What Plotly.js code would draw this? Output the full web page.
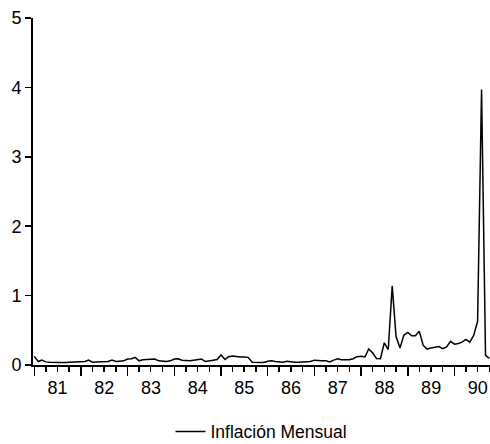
<!DOCTYPE html>
<html>
<head>
<meta charset="utf-8">
<script src="https://cdn.plot.ly/plotly-3.0.1.min.js"></script>
<style>html,body{margin:0;padding:0;background:#fff;}#chart{width:490px;height:444px;}</style>
</head>
<body>
<div id="chart"></div>
<script>
// Monthly inflation (fraction), Jan 1981 - Oct 1990
const years = [1981, 1982, 1983, 1984, 1985, 1986, 1987, 1988, 1989, 1990];
const infl1981 = [0.125, 0.05, 0.07, 0.045, 0.04, 0.035, 0.035, 0.035, 0.035, 0.04, 0.04, 0.04];
const infl1982 = [0.045, 0.05, 0.07, 0.04, 0.045, 0.045, 0.05, 0.05, 0.07, 0.05, 0.055, 0.06];
const infl1983 = [0.085, 0.09, 0.11, 0.06, 0.075, 0.08, 0.09, 0.085, 0.06, 0.055, 0.05, 0.06];
const infl1984 = [0.085, 0.09, 0.07, 0.065, 0.06, 0.07, 0.075, 0.085, 0.05, 0.055, 0.07, 0.08];
const infl1985 = [0.145, 0.08, 0.12, 0.13, 0.12, 0.115, 0.115, 0.11, 0.04, 0.035, 0.035, 0.035];
const infl1986 = [0.055, 0.06, 0.05, 0.04, 0.04, 0.055, 0.045, 0.04, 0.04, 0.04, 0.045, 0.05];
const infl1987 = [0.07, 0.06, 0.06, 0.06, 0.045, 0.07, 0.09, 0.075, 0.075, 0.075, 0.09, 0.12];
const infl1988 = [0.125, 0.115, 0.23, 0.175, 0.095, 0.09, 0.32, 0.22, 1.14, 0.41, 0.245, 0.43];
const infl1989 = [0.47, 0.42, 0.42, 0.485, 0.285, 0.23, 0.245, 0.25, 0.265, 0.235, 0.26, 0.34];
const infl1990 = [0.30, 0.31, 0.33, 0.37, 0.33, 0.43, 0.63, 3.97, 0.138, 0.096];
const byYear = [infl1981, infl1982, infl1983, infl1984, infl1985, infl1986, infl1987, infl1988, infl1989, infl1990];
const seriesName = 'Inflación Mensual';

const xDates = [], yVals = [];
byYear.forEach((arr, i) => {
  arr.forEach((v, m) => {
    xDates.push(years[i] + '-' + String(m + 1).padStart(2, '0') + '-01');
    yVals.push(v);
  });
});

const font = 'Liberation Sans, Arial, Helvetica, sans-serif';
const trace = {
  x: xDates, y: yVals, type: 'scatter', mode: 'lines', name: seriesName,
  line: {color: '#000', width: 1.5}, hoverinfo: 'skip'
};
const layout = {
  width: 490, height: 444,
  margin: {l: 33, r: 0, t: 18, b: 79, autoexpand: false},
  paper_bgcolor: '#fff', plot_bgcolor: '#fff',
  font: {family: font, size: 18, color: '#000'},
  showlegend: true,
  legend: {orientation: 'h', x: 0.5, xanchor: 'center', y: -0.192, yanchor: 'middle',
           font: {family: font, size: 17.5, color: '#000'}, bgcolor: 'rgba(0,0,0,0)'},
  xaxis: {
    type: 'date', range: ['1980-12-22', '1990-10-06'],
    tick0: '1981-01-01', dtick: 'M12', tickformat: '%y', ticklabelmode: 'period',
    ticks: 'outside', ticklen: 9, tickwidth: 1.5, tickcolor: '#000', ticklabelstandoff: -4,
    minor: {dtick: 'M3', tick0: '1981-01-01', ticks: 'outside', ticklen: 5, tickwidth: 1.5, tickcolor: '#000', showgrid: false},
    showline: true, linecolor: '#000', linewidth: 2, showgrid: false, zeroline: false,
    tickfont: {family: font, size: 18, color: '#000'}
  },
  yaxis: {
    range: [0, 5], dtick: 1, tick0: 0,
    ticks: 'outside', ticklen: 6, tickwidth: 1.5, tickcolor: '#000',
    showline: true, linecolor: '#000', linewidth: 2, showgrid: false, zeroline: false,
    tickfont: {family: font, size: 18, color: '#000'}
  }
};
Plotly.newPlot('chart', [trace], layout, {staticPlot: true, displayModeBar: false});
</script>
</body>
</html>
